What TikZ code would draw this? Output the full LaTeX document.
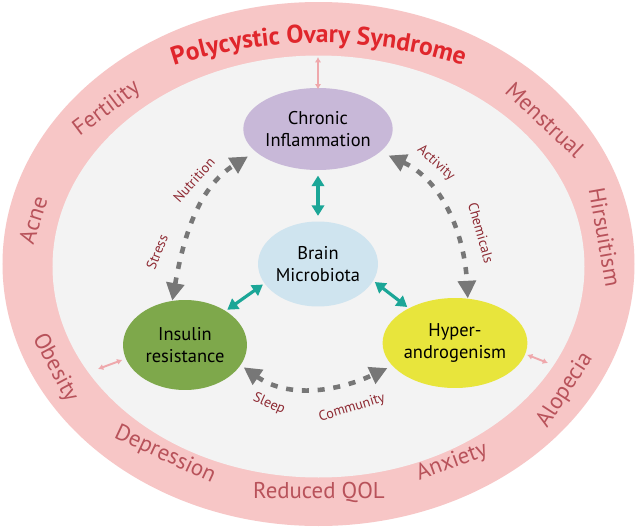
\documentclass[tikz,border=0pt]{standalone}
\usepackage{fontspec}
\setmainfont{PT Sans}
\usepackage{tikz}
\usetikzlibrary{shapes.geometric,arrows.meta,decorations.text}
\definecolor{ringpink}{HTML}{F7C6C6}
\definecolor{innergray}{HTML}{F3F3F3}
\definecolor{ringtext}{HTML}{B8525A}
\definecolor{titlered}{HTML}{E0262C}
\definecolor{chronicfill}{HTML}{C8B8D8}
\definecolor{brainfill}{HTML}{CFE4EF}
\definecolor{insulinfill}{HTML}{7EA84B}
\definecolor{hyperfill}{HTML}{E8E53C}
\definecolor{tealarrow}{HTML}{1BA697}
\definecolor{grayarrow}{HTML}{777777}
\definecolor{linkred}{HTML}{8E2A33}
\definecolor{pinkarrow}{HTML}{EFA8AC}
\tikzstyle{factor} = [ellipse, inner sep=0pt, text centered, align=center, font=\fontsize{10.5}{12.5}\selectfont]
\tikzstyle{symptom} = [text=ringtext, font=\fontsize{13}{15}\selectfont]
\tikzstyle{link} = [text=linkred, font=\fontsize{8}{9}\selectfont]
\tikzstyle{arrow} = [tealarrow, line width=1.8pt, {Triangle[length=6pt,width=7pt]}-{Triangle[length=6pt,width=7pt]}]
\tikzstyle{influence} = [grayarrow, line width=2.6pt, dash pattern=on 4pt off 5pt, {Triangle[length=10pt,width=10pt]}-{Triangle[length=10pt,width=10pt]}]
\tikzstyle{faint} = [pinkarrow, line width=1.1pt, {Latex[length=3pt,width=3.5pt]}-{Latex[length=3pt,width=3.5pt]}]

\begin{document}
\begin{tikzpicture}[x=0.02cm, y=0.02cm]
\useasboundingbox (0,0) rectangle (637,529);
\fill[white] (0,0) rectangle (637,529);

% ring
\fill[ringpink] (318.5,265) ellipse [x radius=316, y radius=262];
\fill[innergray] (318.5,262.5) ellipse [x radius=266, y radius=211];
\path[decorate, decoration={text along path, text align=center,
     text={|\color{titlered}\bfseries\fontsize{14.5}{16}\selectfont|Polycystic Ovary Syndrome}}]
     (32.7,374.3) arc [start angle=150, end angle=30, x radius=330, y radius=223.5];

\node(fertility)  [symptom, rotate=37]  at (107,420) {Fertility};
\node(acne)       [symptom, rotate=72]  at (33,309)  {Acne};
\node(obesity)    [symptom, rotate=-62] at (55,161)  {Obesity};
\node(depression) [symptom, rotate=-25] at (165,74)  {Depression};
\node(qol)        [symptom]             at (319,37)  {Reduced QOL};
\node(anxiety)    [symptom, rotate=20]  at (452,67)  {Anxiety};
\node(alopecia)   [symptom, rotate=57]  at (565,139) {Alopecia};
\node(hirsuitism) [symptom, rotate=-80] at (605,292) {Hirsuitism};
\node(menstrual)  [symptom, rotate=-43] at (545,409) {Menstrual};

% factors
\node(Chronic) [factor, fill=chronicfill, minimum width=2.26cm, minimum height=1.64cm] at (318,400) {Chronic\\Inflammation};
\node(Brain)   [factor, fill=brainfill, minimum width=2.4cm, minimum height=1.7cm] at (318,265) {Brain\\Microbiota};
\node(Insulin) [factor, fill=insulinfill, minimum width=2.48cm, minimum height=1.8cm] at (185,184) {Insulin\\resistance};
\node(Hyper)   [factor, fill=hyperfill, minimum width=2.5cm, minimum height=1.8cm] at (455,186) {Hyper-\\androgenism};

\coordinate(ringtop)   at (318,472);
\coordinate(ringleft)  at (98,160);
\coordinate(ringright) at (548,166);

\draw [arrow, shorten <=3pt, shorten >=3pt] (Chronic.south) -- (Brain.north);
\draw [arrow, shorten <=1pt, shorten >=1pt] (Brain.200) -- (Insulin.40);
\draw [arrow, shorten <=1pt, shorten >=1pt] (Brain.-17) -- (Hyper.143);

\draw [faint] (ringtop) -- ([yshift=-1pt]Chronic.north);
\draw [faint, shorten >=2pt] (ringleft) -- (Insulin.193);
\draw [faint, shorten >=1pt] (ringright) -- (Hyper.-9);

\draw [influence, shorten >=5pt] (Insulin.106) to[out=80, in=212] (Chronic.200);
\draw [influence, shorten <=5pt] (Chronic.-20) to[out=-25, in=93] (Hyper.74);
\draw [influence, shorten <=2pt, shorten >=3pt] (Insulin.-20) to[out=-35, in=205] (Hyper.200);

\node(stress)    [link, rotate=68]  at (157,277) {Stress};
\node(nutrition) [link, rotate=48]  at (194,349) {Nutrition};
\node(activity)  [link, rotate=-42] at (436,366) {Activity};
\node(chemicals) [link, rotate=-74] at (481,296) {Chemicals};
\node(sleep)     [link, rotate=-24] at (269,125) {Sleep};
\node(community) [link, rotate=17]  at (352,121) {Community};

\end{tikzpicture}
\end{document}
